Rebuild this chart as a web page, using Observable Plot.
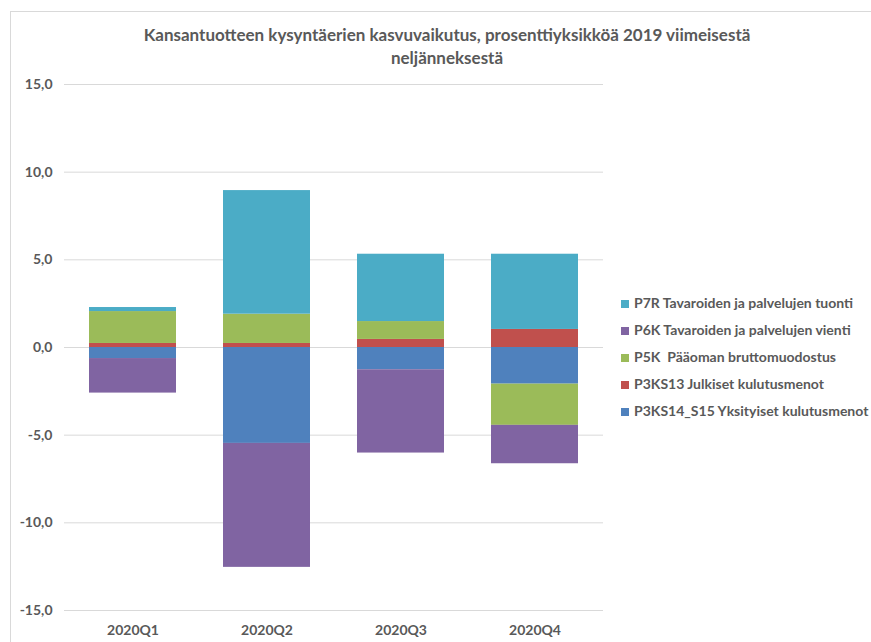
<!DOCTYPE html>
<html>
<head>
<meta charset="utf-8">
<script src="https://cdn.jsdelivr.net/npm/d3@7"></script>
<script src="https://cdn.jsdelivr.net/npm/@observablehq/plot@0.6"></script>
<style>
  html, body { margin: 0; padding: 0; background: #fff; }
  body { width: 871px; height: 642px; overflow: hidden; position: relative; font-family: Lato, "Open Sans", sans-serif; }
  #frame { position: absolute; left: 10px; top: 11px; width: 900px; height: 700px; border: 1px solid #d9d9d9; box-sizing: border-box; }
  #title { position: absolute; left: 97px; width: 700px; top: 23px; text-align: center; font-weight: bold; font-size: 17px; line-height: 23px; color: #595959; }
  #chart { position: absolute; left: 0; top: 0; }
  #legend { position: absolute; left: 621px; top: 294px; font-weight: bold; font-size: 14px; color: #595959; }
  #legend .row { height: 27px; line-height: 18px; white-space: pre; }
  #legend .sw { display: inline-block; width: 8px; height: 8px; margin-right: 5px; vertical-align: 0px; }
</style>
</head>
<body>
<div id="frame"></div>
<div id="chart"></div>
<div id="title">Kansantuotteen kysyntäerien kasvuvaikutus, prosenttiyksikköä 2019 viimeisestä<br>neljänneksestä</div>
<div id="legend"></div>
<script>
const quarters = ["2020Q1", "2020Q2", "2020Q3", "2020Q4"];
const seriesNames = [
  "P3KS14_S15 Yksityiset kulutusmenot",
  "P3KS13 Julkiset kulutusmenot",
  "P5K  Pääoman bruttomuodostus",
  "P6K Tavaroiden ja palvelujen vienti",
  "P7R Tavaroiden ja palvelujen tuonti"
];
const privateCons = [-0.63, -5.47, -1.27, -2.09];
const publicCons  = [0.23, 0.23, 0.46, 1.03];
const investment  = [1.82, 1.67, 1.02, -2.35];
const exportsV    = [-1.97, -7.07, -4.75, -2.19];
const importsV    = [0.23, 7.05, 3.84, 4.29];
const seriesColors = ["#4F81BD", "#C0504D", "#9BBB59", "#8064A2", "#4BACC6"];
const yTicks = [-15, -10, -5, 0, 5, 10, 15];

const seriesValues = [privateCons, publicCons, investment, exportsV, importsV];
const data = [];
seriesNames.forEach((s, i) => {
  quarters.forEach((q, j) => data.push({ quarter: q, series: s, value: seriesValues[i][j] }));
});

const fmt = v => v.toFixed(1).replace(".", ",");

const chart = Plot.plot({
  width: 871,
  height: 642,
  marginLeft: 64,
  marginRight: 268,
  marginTop: 84,
  marginBottom: 32,
  style: { fontFamily: "Lato, 'Open Sans', sans-serif", fontSize: "14px", fontWeight: "bold", color: "#595959", background: "transparent" },
  x: { domain: quarters, paddingInner: 0.354, paddingOuter: 0.177, label: null },
  y: { domain: [-15, 15], label: null },
  color: { domain: seriesNames, range: seriesColors },
  marks: [
    Plot.gridY(yTicks, { stroke: "#d9d9d9", strokeOpacity: 1 }),
    Plot.barY(data, { x: "quarter", y: "value", fill: "series", order: seriesNames }),
    Plot.axisY({ ticks: yTicks, tickFormat: fmt, tickSize: 0, tickPadding: 12, label: null }),
    Plot.axisX({ tickSize: 0, tickPadding: 15, label: null })
  ]
});
document.getElementById("chart").appendChild(chart);

const legend = document.getElementById("legend");
[...seriesNames.keys()].reverse().forEach(i => {
  const row = document.createElement("div");
  row.className = "row";
  const sw = document.createElement("span");
  sw.className = "sw";
  sw.style.background = seriesColors[i];
  row.appendChild(sw);
  row.appendChild(document.createTextNode(seriesNames[i]));
  legend.appendChild(row);
});
</script>
</body>
</html>
